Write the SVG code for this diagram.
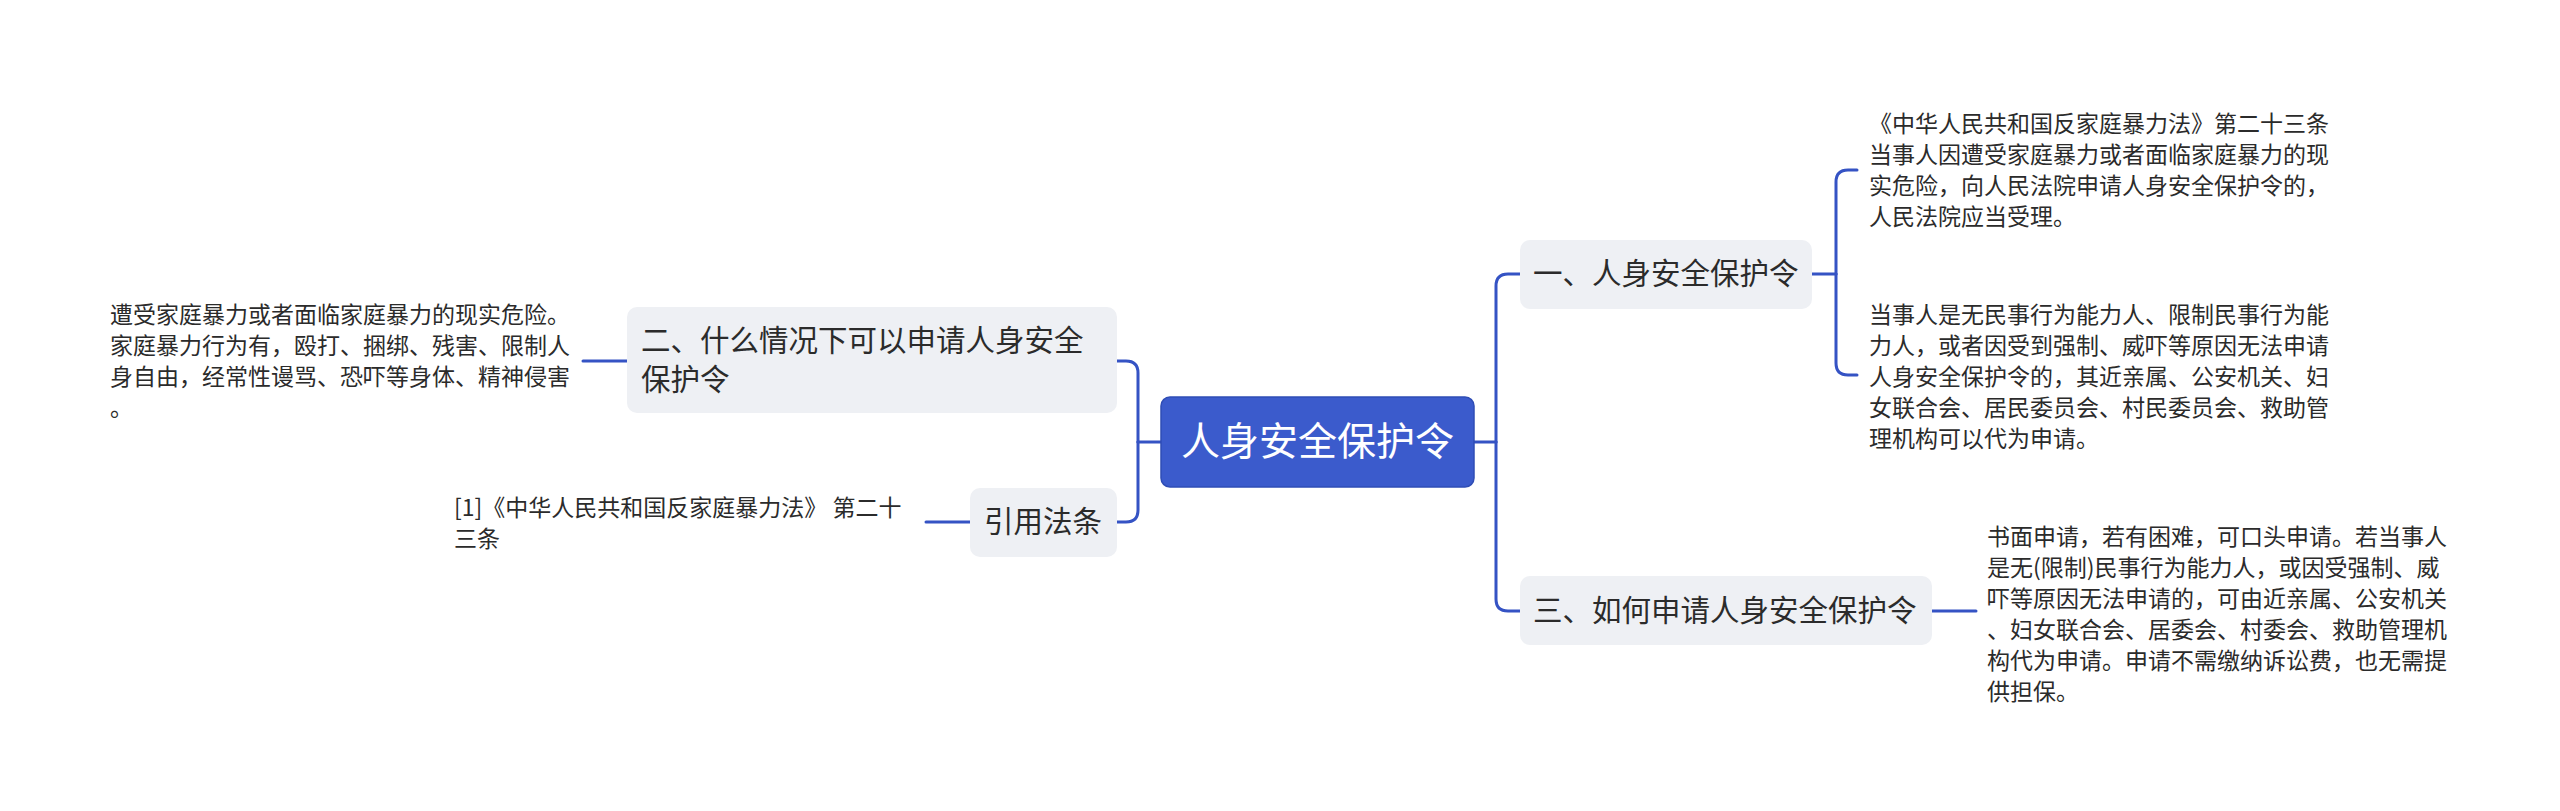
<svg xmlns="http://www.w3.org/2000/svg" width="2560" height="811" viewBox="0 0 2560 811">
<style>
text{font-family:"Noto Sans CJK SC","Noto Sans",sans-serif;}
.leaf{font-size:23px;fill:#2b2b2b;}
.sub{font-size:29.5px;fill:#2b2b2b;}
.root{font-size:39px;fill:#ffffff;}
.box{fill:#eef0f4;}
.conn{fill:none;stroke:#3553c4;stroke-width:3;stroke-linecap:round;}
</style>
<rect width="2560" height="811" fill="#ffffff"/>
<g id="connectors" class="conn">
<path d="M1474 442 H1496"/>
<path d="M1496 442 V286 Q1496 274 1508 274 H1520"/>
<path d="M1496 442 V599 Q1496 611 1508 611 H1520"/>
<path d="M1161 442 H1138"/>
<path d="M1138 442 V373 Q1138 361 1126 361 H1117"/>
<path d="M1138 442 V510 Q1138 522 1126 522 H1117"/>
<path d="M1812 274 H1836"/>
<path d="M1836 274 V182 Q1836 170 1848 170 H1857"/>
<path d="M1836 274 V363 Q1836 375 1848 375 H1857"/>
<path d="M1932 611 H1976"/>
<path d="M627 361 H583"/>
<path d="M970 522 H926"/>
</g>
<g id="root">
<rect x="1161" y="397" width="313" height="90" rx="9" fill="#3b5bcc" stroke="#2f4db5" stroke-width="1.5"/>
<text class="root" x="1317.5" y="455" text-anchor="middle">人身安全保护令</text>
</g>
<g id="n1">
<rect class="box" x="1520" y="240" width="292" height="69" rx="10"/>
<text class="sub" x="1533" y="284">一、人身安全保护令</text>
</g>
<g id="n1a">
<text class="leaf" x="1869" y="132">《中华人民共和国反家庭暴力法》第二十三条</text>
<text class="leaf" x="1869" y="163">当事人因遭受家庭暴力或者面临家庭暴力的现</text>
<text class="leaf" x="1869" y="194">实危险，向人民法院申请人身安全保护令的，</text>
<text class="leaf" x="1869" y="225">人民法院应当受理。</text>
</g>
<g id="n1b">
<text class="leaf" x="1869" y="323">当事人是无民事行为能力人、限制民事行为能</text>
<text class="leaf" x="1869" y="354">力人，或者因受到强制、威吓等原因无法申请</text>
<text class="leaf" x="1869" y="385">人身安全保护令的，其近亲属、公安机关、妇</text>
<text class="leaf" x="1869" y="416">女联合会、居民委员会、村民委员会、救助管</text>
<text class="leaf" x="1869" y="447">理机构可以代为申请。</text>
</g>
<g id="n3">
<rect class="box" x="1520" y="576" width="412" height="69" rx="10"/>
<text class="sub" x="1533" y="621">三、如何申请人身安全保护令</text>
</g>
<g id="n3a">
<text class="leaf" x="1987" y="545">书面申请，若有困难，可口头申请。若当事人</text>
<text class="leaf" x="1987" y="576">是无(限制)民事行为能力人，或因受强制、威</text>
<text class="leaf" x="1987" y="607">吓等原因无法申请的，可由近亲属、公安机关</text>
<text class="leaf" x="1987" y="638">、妇女联合会、居委会、村委会、救助管理机</text>
<text class="leaf" x="1987" y="669">构代为申请。申请不需缴纳诉讼费，也无需提</text>
<text class="leaf" x="1987" y="700">供担保。</text>
</g>
<g id="n2">
<rect class="box" x="627" y="307" width="490" height="106" rx="10"/>
<text class="sub" x="641" y="351">二、什么情况下可以申请人身安全</text>
<text class="sub" x="641" y="390">保护令</text>
</g>
<g id="n2a">
<text class="leaf" x="110" y="323">遭受家庭暴力或者面临家庭暴力的现实危险。</text>
<text class="leaf" x="110" y="354">家庭暴力行为有，殴打、捆绑、残害、限制人</text>
<text class="leaf" x="110" y="385">身自由，经常性谩骂、恐吓等身体、精神侵害</text>
<text class="leaf" x="110" y="416">。</text>
</g>
<g id="n4">
<rect class="box" x="970" y="488" width="147" height="69" rx="10"/>
<text class="sub" x="984" y="532">引用法条</text>
</g>
<g id="n4a">
<text class="leaf" x="454" y="516">[1]《中华人民共和国反家庭暴力法》 第二十</text>
<text class="leaf" x="454" y="547">三条</text>
</g>
</svg>
